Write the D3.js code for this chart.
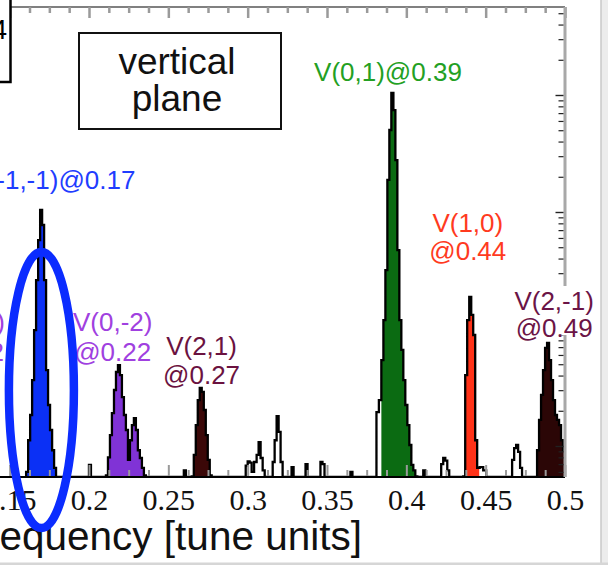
<!DOCTYPE html>
<html>
<head>
<meta charset="utf-8">
<script src="https://cdn.jsdelivr.net/npm/d3@7"></script>
<style>
  body { margin: 0; background: #fff; }
  svg { display: block; }
  .lbl { font-family: "Liberation Sans", Arial, sans-serif; font-size: 26px; }
  .tick-lbl { font-family: "Liberation Serif", "Times New Roman", serif; font-size: 30px; fill: #111; }
</style>
</head>
<body>
<div id="chart"></div>
<script>
// ---- data (tune units vs. spectral amplitude, arbitrary units, log) ----
const peakNames = ["V(-1,-1)", "V(0,-2)", "V(2,1)", "V(0,1)", "V(1,0)", "V(2,-1)"];
const peakTunes = ["0.17", "0.22", "0.27", "0.39", "0.44", "0.49"];
const offLabel = ["V(1,-2)", "@0.12"];

const peakBlue = [[0.1610,0.0060],[0.1623,0.0112],[0.1635,0.0184],[0.1648,0.0366],[0.1660,0.098],
  [0.1673,0.262],[0.1686,0.576],[0.1698,1.04],[0.1711,0.774],[0.1723,0.262],[0.1736,0.0446],
  [0.1748,0.0224],[0.1761,0.0137],[0.1774,0.0092],[0.1786,0.0065]];
const peakPurple = [[0.2113,0.0056],[0.2126,0.0080],[0.2138,0.0124],[0.2151,0.0191],[0.2164,0.0301],
  [0.2176,0.0429],[0.2189,0.0492],[0.2201,0.0404],[0.2214,0.0262],[0.2226,0.0184],[0.2239,0.0137],
  [0.2252,0.0076],[0.2264,0.0112],[0.2277,0.0151],[0.2289,0.0173],[0.2302,0.0137],[0.2314,0.0092],
  [0.2327,0.0079],[0.2340,0.0065],[0.2352,0.0056]];
const peakDark = [[0.2654,0.0055],[0.2667,0.0084],[0.2679,0.0151],[0.2692,0.0247],[0.2704,0.0313],
  [0.2717,0.0290],[0.2730,0.0203],[0.2742,0.0124],[0.2755,0.0076],[0.2767,0.0056]];
const peakGreen = [[0.3849,0.0543],[0.3862,0.119],[0.3874,0.319],[0.3887,1.88],[0.3899,5.02],
  [0.3912,10.4],[0.3925,7.44],[0.3937,2.78],[0.3950,0.473],[0.3962,0.119],[0.3975,0.0662],
  [0.3987,0.0366],[0.4000,0.0224],[0.4013,0.0151],[0.4025,0.0102],[0.4038,0.0069],[0.4050,0.0062],
  [0.4063,0.0055]];
const peakRed = [[0.4365,0.0055],[0.4377,0.0404],[0.4390,0.119],[0.4403,0.188],[0.4415,0.132],
  [0.4428,0.0889],[0.4440,0.0112],[0.4453,0.0065]];
const peakMaroon = [[0.4818,0.0054],[0.4830,0.0092],[0.4843,0.0167],[0.4855,0.0273],[0.4868,0.0446],
  [0.4881,0.0689],[0.4893,0.0759],[0.4906,0.0543],[0.4918,0.0366],[0.4931,0.0247],[0.4943,0.0184],
  [0.4956,0.0167],[0.4969,0.0151],[0.4981,0.0112],[0.4994,0.0092]];
const noise = [[0.2006,0.0069],[0.2604,0.0062],
  [0.2994,0.0068],[0.3006,0.0074],[0.3019,0.0072],[0.3031,0.0060],
  [0.3050,0.0073],[0.3063,0.0084],[0.3075,0.0108],[0.3088,0.0079],[0.3101,0.0062],
  [0.3164,0.0073],[0.3176,0.0112],[0.3189,0.0180],[0.3201,0.0132],[0.3214,0.0073],
  [0.3283,0.0066],[0.3371,0.0070],[0.3465,0.0073],[0.3478,0.0070],[0.3654,0.0060],
  [0.3818,0.0195],[0.3836,0.0247],
  [0.4113,0.0062],[0.4226,0.0070],[0.4239,0.0079],[0.4252,0.0075],[0.4264,0.0062],
  [0.4472,0.0066],[0.4497,0.0062],
  [0.4673,0.0076],[0.4686,0.0096],[0.4698,0.0102],[0.4711,0.0089],[0.4723,0.0065]];

const xTicks = [0.15, 0.2, 0.25, 0.3, 0.35, 0.4, 0.45, 0.5];
const yMajor = [0.01, 0.1, 1, 10];

// ---- layout ----
const W = 608, H = 565;
const peaks = [peakBlue, peakPurple, peakDark, peakGreen, peakRed, peakMaroon];
const fillColors = ["#0b30f5", "#8033d6", "#3b0808", "#0b6b12", "#ff3218", "#2b0606"];
const textColors = ["#1f3dff", "#a040e0", "#6b1240", "#23a023", "#ff3a1e", "#6b1446"];
const labelLayout = [
  { dx: 94, anchor: "end", y: [189] },
  { dx: -8, anchor: "middle", y: [331, 361] },
  { dx: 1.5, anchor: "middle", y: [355, 384] },
  { dx: -2.5, anchor: "middle", y: [81] },
  { dx: -2, anchor: "middle", y: [232, 260] },
  { dx: 5, anchor: "middle", y: [310, 337], bgBottom: 335 }
];

const xScale = d3.scaleLinear().domain([0.2, 0.5]).range([89, 565]);
const yScale = d3.scaleLog().domain([0.01, 10]).range([446, 95]);
const plotTop = 7, plotBottom = 477, plotRight = xScale(0.5);
const floorAmp = yScale.invert(plotBottom);
const binW = 0.00126;

const svg = d3.select("#chart").append("svg").attr("width", W).attr("height", H);
svg.append("rect").attr("width", W).attr("height", H).attr("fill", "#fff");

svg.append("clipPath").attr("id", "plot-clip")
  .append("rect").attr("x", -50).attr("y", plotTop)
  .attr("width", plotRight + 50).attr("height", plotBottom - plotTop);

// pad groups with floor points so steps fall back to the baseline
function padded(pts) {
  const out = [];
  pts.forEach((p, i) => {
    if (i === 0 || p[0] - pts[i - 1][0] > 2 * binW) out.push([p[0] - binW, floorAmp]);
    out.push(p);
    if (i === pts.length - 1 || pts[i + 1][0] - p[0] > 2 * binW) out.push([p[0] + binW, floorAmp]);
  });
  return out;
}

const plot = svg.append("g").attr("clip-path", "url(#plot-clip)");

const area = d3.area().curve(d3.curveStep)
  .x(d => xScale(d[0])).y0(plotBottom).y1(d => yScale(d[1]));
const line = d3.line().curve(d3.curveStep)
  .x(d => xScale(d[0])).y(d => yScale(d[1]));

peaks.forEach((pk, i) => {
  plot.append("path").datum(padded(pk))
    .attr("d", area).attr("fill", fillColors[i]);
});

const all = padded(peaks.flat().concat(noise).sort((a, b) => a[0] - b[0]));
plot.append("path").datum(all)
  .attr("d", line).attr("fill", "none")
  .attr("stroke", "#000").attr("stroke-width", 2.3);

// ---- axes ----
const minorX = d3.range(0.15, 0.5001, 0.0125).filter(v => Math.abs(v / 0.05 - Math.round(v / 0.05)) > 1e-6);

function styleTicks(g, color, w) {
  g.select(".domain").remove();
  g.selectAll(".tick line").attr("stroke", color).attr("stroke-width", w);
  g.selectAll(".tick text").remove();
}

// top
svg.append("line").attr("x1", 0).attr("x2", plotRight).attr("y1", plotTop).attr("y2", plotTop)
  .attr("stroke", "#808080").attr("stroke-width", 2);
svg.append("g").attr("transform", `translate(0,${plotTop})`)
  .call(d3.axisBottom(xScale).tickValues(xTicks).tickSize(11))
  .call(g => styleTicks(g, "#9a9a9a", 2.5));
svg.append("g").attr("transform", `translate(0,${plotTop})`)
  .call(d3.axisBottom(xScale).tickValues(minorX).tickSize(6))
  .call(g => styleTicks(g, "#9a9a9a", 2.5));

// bottom
svg.append("g").attr("transform", `translate(0,${plotBottom})`)
  .call(d3.axisTop(xScale).tickValues(xTicks).tickSize(12))
  .call(g => styleTicks(g, "#9a9a9a", 2));
svg.append("g").attr("transform", `translate(0,${plotBottom})`)
  .call(d3.axisTop(xScale).tickValues(minorX).tickSize(7))
  .call(g => styleTicks(g, "#9a9a9a", 2));
svg.append("line").attr("x1", 0).attr("x2", plotRight).attr("y1", plotBottom).attr("y2", plotBottom)
  .attr("stroke", "#000").attr("stroke-width", 2);

const xLab = svg.append("g").attr("transform", `translate(0,${plotBottom})`)
  .call(d3.axisBottom(xScale).tickValues(xTicks).tickSize(0).tickFormat(d => String(+d.toFixed(2))));
xLab.select(".domain").remove();
xLab.selectAll(".tick text").attr("class", "tick-lbl").attr("y", 33).attr("dy", 0);

// right (log)
const yTop = yScale.invert(plotTop);
const minorY = d3.scaleLog().domain([floorAmp, yTop]).ticks()
  .filter(v => Math.abs(Math.log10(v) - Math.round(Math.log10(v))) > 1e-6);
svg.append("line").attr("x1", plotRight).attr("x2", plotRight).attr("y1", plotTop).attr("y2", plotBottom)
  .attr("stroke", "#a8a8a8").attr("stroke-width", 3);
svg.append("g").attr("transform", `translate(${plotRight - 1.5},0)`)
  .call(d3.axisLeft(yScale).tickValues(yMajor).tickSize(8))
  .call(g => styleTicks(g, "#222", 1.4));
svg.append("g").attr("transform", `translate(${plotRight - 1.5},0)`)
  .call(d3.axisLeft(yScale).tickValues(minorY).tickSize(5))
  .call(g => styleTicks(g, "#222", 1.2));

svg.append("text").attr("x", 362).attr("y", 550).attr("text-anchor", "end")
  .attr("font-family", "Liberation Sans, Arial, sans-serif").attr("font-size", 40.5)
  .attr("fill", "#111").text("frequency [tune units]");

// ---- annotations ----
// panel box, top left (cut off)
svg.append("rect").attr("x", -30).attr("y", -10).attr("width", 40.5).attr("height", 92)
  .attr("fill", "#fff").attr("stroke", "#000").attr("stroke-width", 2.5);
svg.append("text").attr("x", 7).attr("y", 39).attr("text-anchor", "end")
  .attr("font-family", "Liberation Sans, Arial, sans-serif").attr("font-size", 28).text("4");

svg.append("rect").attr("x", 79).attr("y", 33).attr("width", 202).attr("height", 96)
  .attr("fill", "#fff").attr("stroke", "#111").attr("stroke-width", 2);
const vp = svg.append("text").attr("text-anchor", "middle")
  .attr("font-family", "Liberation Sans, Arial, sans-serif").attr("font-size", 37).attr("fill", "#111");
vp.append("tspan").attr("x", 177).attr("y", 74).text("vertical");
vp.append("tspan").attr("x", 177).attr("y", 111).text("plane");

peakNames.forEach((name, i) => {
  const lay = labelLayout[i];
  const lines = lay.y.length === 1 ? [name + "@" + peakTunes[i]] : [name, "@" + peakTunes[i]];
  const g = svg.append("g");
  const t = g.append("text").attr("class", "lbl").attr("fill", textColors[i])
    .attr("text-anchor", lay.anchor);
  lines.forEach((s, j) => {
    t.append("tspan").attr("x", xScale(+peakTunes[i]) + lay.dx).attr("y", lay.y[j]).text(s);
  });
  if (lay.bgBottom) {
    const b = t.node().getBBox();
    g.insert("rect", "text").attr("x", b.x).attr("y", b.y).attr("width", b.width)
      .attr("height", lay.bgBottom - b.y).attr("fill", "#fff");
  }
});

const off = svg.append("text").attr("class", "lbl").attr("fill", textColors[1]).attr("text-anchor", "end");
off.append("tspan").attr("x", 5).attr("y", 331).text(offLabel[0]);
off.append("tspan").attr("x", 4).attr("y", 361).text(offLabel[1]);

// highlight ellipse round the V(-1,-1) line
svg.append("ellipse").attr("cx", xScale(0.17)).attr("cy", 390).attr("rx", 32.5).attr("ry", 138)
  .attr("fill", "none").attr("stroke", "#0b2cff").attr("stroke-width", 8.5);

// page border
svg.append("rect").attr("x", 601).attr("y", 0).attr("width", 7).attr("height", H).attr("fill", "#ececec");
svg.append("line").attr("x1", 601).attr("x2", 601).attr("y1", 0).attr("y2", H)
  .attr("stroke", "#c8c8c8").attr("stroke-width", 1.5);
svg.append("rect").attr("x", 0).attr("y", 562.5).attr("width", W).attr("height", 2.5).attr("fill", "#d6d6d6");
</script>
</body>
</html>
